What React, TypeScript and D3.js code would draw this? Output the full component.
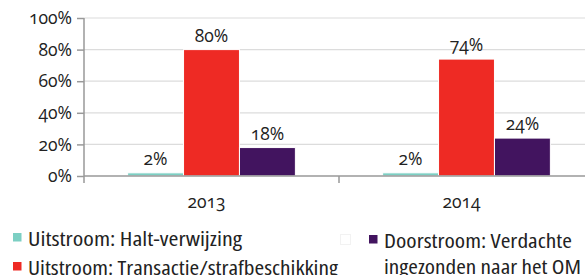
import React, { useRef, useEffect } from 'react';
import * as d3 from 'd3';

const years = ['2013', '2014'];
const seriesNames = [
  'Uitstroom: Halt-verwijzing',
  'Uitstroom: Transactie/strafbeschikking',
  'Doorstroom: Verdachte ingezonden naar het OM',
];
const seriesColors = ['#7ccfc3', '#ee2a24', '#42145f'];
const values2013 = [2, 80, 18];
const values2014 = [2, 74, 24];
const yTicks = [0, 20, 40, 60, 80, 100];

const App = () => {
  const ref = useRef<SVGSVGElement>(null);

  useEffect(() => {
    const width = 585;
    const height = 275;
    const margin = { top: 18, right: -9, bottom: 99, left: 84 };
    const font = '"Open Sans", Lato, sans-serif';

    const svg = d3.select(ref.current);
    svg.selectAll('*').remove();
    svg.attr('width', width).attr('height', height);

    const data = [values2013, values2014];

    //scales
    const x0 = d3.scaleBand()
      .domain(years)
      .range([margin.left, width - margin.right])
      .padding(0);
    const x1 = d3.scaleBand()
      .domain(seriesNames)
      .range([0, x0.bandwidth()])
      .paddingInner(0)
      .paddingOuter(0.78);
    const y = d3.scaleLinear()
      .domain([0, 100])
      .range([height - margin.bottom, margin.top]);

    const numStyle = (sel: any) => sel
      .style('font-family', font)
      .style('font-size', '17.5px')
      .style('font-feature-settings', '"onum" 1')
      .style('fill', '#222');

    //gridlines
    svg.append('g')
      .selectAll('line')
      .data(yTicks.filter(d => d > 0))
      .join('line')
      .attr('x1', margin.left)
      .attr('x2', width)
      .attr('y1', d => y(d))
      .attr('y2', d => y(d))
      .attr('stroke', '#dcdcdc')
      .attr('stroke-width', 1.2);

    //bars
    const groups = svg.append('g')
      .selectAll('g')
      .data(data)
      .join('g')
      .attr('transform', (d, i) => `translate(${x0(years[i])},0)`);

    groups.selectAll('rect')
      .data(d => d.map((v, j) => ({ v, j })))
      .join('rect')
      .attr('x', d => x1(seriesNames[d.j])!)
      .attr('y', d => y(d.v))
      .attr('width', x1.bandwidth())
      .attr('height', d => y(0) - y(d.v))
      .attr('fill', d => seriesColors[d.j])
      .attr('stroke', '#fff')
      .attr('stroke-width', 1);

    //value labels
    groups.selectAll('text')
      .data(d => d.map((v, j) => ({ v, j })))
      .join('text')
      .attr('x', d => x1(seriesNames[d.j])! + x1.bandwidth() / 2)
      .attr('y', d => y(d.v) - 8)
      .attr('text-anchor', 'middle')
      .call(numStyle)
      .text(d => `${d.v}%`);

    //y axis
    const yAxis = svg.append('g')
      .attr('transform', `translate(${margin.left},0)`)
      .call(d3.axisLeft(y).tickValues(yTicks).tickSize(7).tickPadding(5).tickFormat(d => `${d}%`));
    yAxis.select('.domain').attr('stroke', '#999').attr('stroke-width', 1.5)
      .attr('d', `M0,${y(100)}V${y(0) + 7}`);
    yAxis.selectAll('.tick line').attr('stroke', '#999').attr('stroke-width', 1.5);
    yAxis.selectAll('.tick text').call(numStyle);

    //x axis
    const xAxis = svg.append('g')
      .attr('transform', `translate(0,${y(0)})`);
    xAxis.append('line')
      .attr('x1', margin.left)
      .attr('x2', width)
      .attr('stroke', '#999')
      .attr('stroke-width', 1.5);
    xAxis.selectAll('line.tick')
      .data(years.slice(1))
      .join('line')
      .attr('class', 'tick')
      .attr('x1', d => x0(d)!)
      .attr('x2', d => x0(d)!)
      .attr('y2', 7)
      .attr('stroke', '#999')
      .attr('stroke-width', 1.5);
    xAxis.selectAll('text')
      .data(years)
      .join('text')
      .attr('x', d => x0(d)! + x0.bandwidth() / 2 - 5)
      .attr('y', 32)
      .attr('text-anchor', 'middle')
      .call(numStyle)
      .text(d => d);

    //legend
    const legend = svg.append('g')
      .style('font-family', font)
      .style('font-size', '19px')
      .style('font-stretch', 'condensed');
    const items = [
      { x: 13, y: 233, lines: [{ t: seriesNames[0], w: 214 }], color: seriesColors[0] },
      { x: 13, y: 262, lines: [{ t: seriesNames[1], w: 310 }], color: seriesColors[1] },
      { x: 369, y: 235, lines: [{ t: 'Doorstroom: Verdachte', w: 188 }, { t: 'ingezonden naar het OM', w: 197 }], color: seriesColors[2] },
    ];
    items.forEach(it => {
      legend.append('rect')
        .attr('x', it.x)
        .attr('y', it.y)
        .attr('width', 8.5)
        .attr('height', 8.5)
        .attr('fill', it.color);
      it.lines.forEach((l, k) => {
        legend.append('text')
          .attr('x', it.x + 15)
          .attr('y', it.y + 12.5 + k * 26.5)
          .attr('textLength', l.w)
          .attr('lengthAdjust', 'spacingAndGlyphs')
          .style('fill', '#222')
          .text(l.t);
      });
    });
    //empty legend placeholder
    legend.append('rect')
      .attr('x', 340.5)
      .attr('y', 234.5)
      .attr('width', 10)
      .attr('height', 10)
      .attr('fill', '#fff')
      .attr('stroke', '#f2f2f2');
  }, []);

  return <svg ref={ref} style={{ position: 'absolute', left: 0, top: 0 }}></svg>;
};

export default App;
